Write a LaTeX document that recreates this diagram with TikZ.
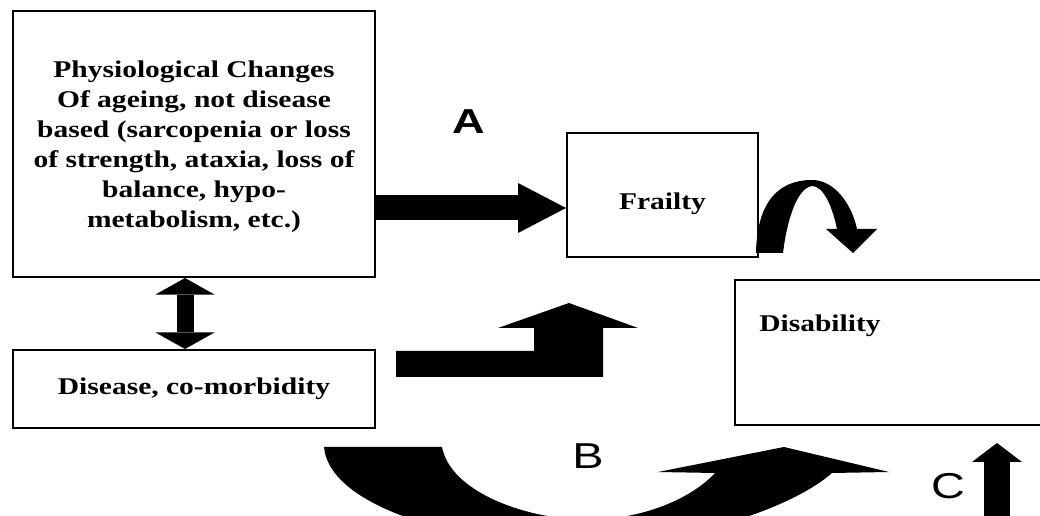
\documentclass[tikz,border=0pt]{standalone}
\usepackage{fontspec}
\setmainfont{Liberation Serif}[FakeStretch=1.23]
\newfontfamily\lblfont{Liberation Sans}[FakeStretch=1.3]
\usetikzlibrary{arrows.meta}

\begin{document}
\begin{tikzpicture}[x=0.75pt,y=0.75pt,yscale=-1,xscale=1,
  box/.style={draw, line width=1.5pt, align=center, font=\fontsize{18}{22.5}\selectfont\bfseries},
  lbl/.style={anchor=base, inner sep=0pt, font=\lblfont\fontsize{27}{27}\selectfont}]
\useasboundingbox (0,0) rectangle (1040,516);
\clip (0,0) rectangle (1040,516);

%Shape: Rectangle
\node[box, minimum width=271.5pt, minimum height=199.5pt, text depth=-6pt] (physio) at (194,144) {Physiological Changes\\ Of ageing, not disease\\ based (sarcopenia or loss\\ of strength, ataxia, loss of\\ balance, hypo-\\ metabolism, etc.)};
%Shape: Rectangle
\node[box, minimum width=143.25pt, minimum height=93pt, text height=26pt, text depth=4pt] (frailty) at (662.5,195) {Frailty};
%Shape: Rectangle
\node[box, minimum width=271.5pt, minimum height=58.5pt] (disease) at (194,389) {Disease, co-morbidity};
%Shape: Rectangle
\node[box, minimum width=236.25pt, minimum height=108.75pt] (disab) at (892.5,352.5) {};
% Text Node
\node[box, draw=none] (disabtxt) at (820,326) {Disability};

\coordinate (atip) at (565,208);
\coordinate (dblx) at (185,300);
\coordinate (cfoot) at (997,520);
\coordinate (ctip) at (997,443);

%Straight Lines
\draw[line width=18.75pt, -{Triangle[length=36pt,width=37.5pt,line width=0pt]}] (physio.east |- atip) -- (frailty.west |- atip);
%Straight Lines
\draw[line width=12.75pt, {Triangle[length=12.4pt,width=44.25pt,line width=0pt]}-{Triangle[length=12.4pt,width=44.25pt,line width=0pt]}] (physio.south -| dblx) -- (disease.north -| dblx);
%Straight Lines
\draw[line width=19.5pt, -{Triangle[length=14.25pt,width=37.5pt,line width=0pt]}] (cfoot) -- (ctip);

%Shape: Curved Arrow
\fill (756,253) .. controls (757,200) and (780,180) .. (812,180) .. controls (835,180) and (852,205) .. (857,229) -- (877,229) -- (853,253) -- (826,229) -- (837,229) .. controls (832,205) and (823,186) .. (812,186) .. controls (797,188) and (787,220) .. (783,253) -- cycle;
%Shape: Bent Arrow
\fill (396,351) -- (534,351) -- (534,328) -- (498,328) -- (569,303) -- (638,328) -- (603,328) -- (603,377) -- (396,377) -- cycle;
%Shape: Curved Arrow
\fill (324,447) -- (442,447) .. controls (450,490) and (520,518) .. (585,520) .. controls (640,520) and (690,500) .. (715,473) -- (658,472) -- (784,447) -- (889,472) -- (832,473) .. controls (790,510) and (680,545) .. (580,545) .. controls (470,545) and (330,510) .. (324,447) -- cycle;

% Text Node
\node[lbl, font=\lblfont\bfseries\fontsize{26}{26}\selectfont] (lblA) at (469,134) {A};
% Text Node
\node[lbl] (lblB) at (588,469) {B};
% Text Node
\node[lbl] (lblC) at (948,499) {C};

\end{tikzpicture}
\end{document}
